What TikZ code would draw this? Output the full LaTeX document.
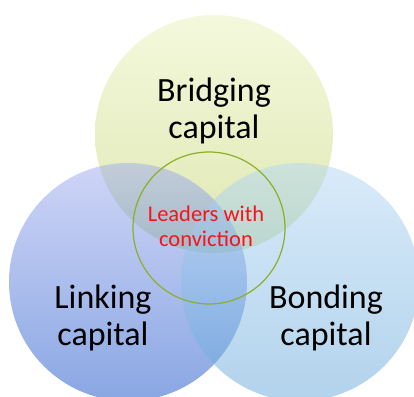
\documentclass[tikz,border=0pt]{standalone}
\usepackage{fontspec}
\setmainfont{Carlito}
\definecolor{topA}{RGB}{233,243,187}
\definecolor{topB}{RGB}{191,209,101}
\definecolor{leftA}{RGB}{159,171,239}
\definecolor{leftB}{RGB}{19,79,199}
\definecolor{rightA}{RGB}{179,215,245}
\definecolor{rightB}{RGB}{101,167,217}
\definecolor{ringgreen}{RGB}{140,175,40}
\definecolor{leadred}{RGB}{245,20,25}
\tikzset{
  venn/.style={fill opacity=0.5, draw=none},
  biglabel/.style={font=\fontsize{34}{37}\selectfont, align=center, text=black, inner sep=0pt, anchor=base},
  smalllabel/.style={font=\fontsize{22.5}{25}\selectfont, align=center, text=leadred, inner sep=0pt, anchor=base},
  ring/.style={draw=ringgreen, line width=1.2pt, fill=none}
}
\begin{document}
\begin{tikzpicture}[x=1pt,y=-1pt]
\useasboundingbox (0,0) rectangle (414,396);
\begin{scope}
\clip (0,0) rectangle (414,396);
\path[venn, top color=topA, bottom color=topB] (214,134) circle[radius=119pt];
\path[venn, top color=leftA, bottom color=leftB] (128,282) circle[radius=119pt];
\path[venn, top color=rightA, bottom color=rightB] (300,282) circle[radius=119pt];
\end{scope}
\node[ring, circle, minimum size=152pt, inner sep=0pt] (lead) at (209,228) {};
\node[biglabel] (bridging) at (214,138) {Bridging\\capital};
\node[biglabel] (linking) at (103,345) {Linking\\capital};
\node[biglabel] (bonding) at (326,345) {Bonding\\capital};
\node[smalllabel] (leaders) at (206,246) {Leaders with\\conviction};
\end{tikzpicture}
\end{document}
